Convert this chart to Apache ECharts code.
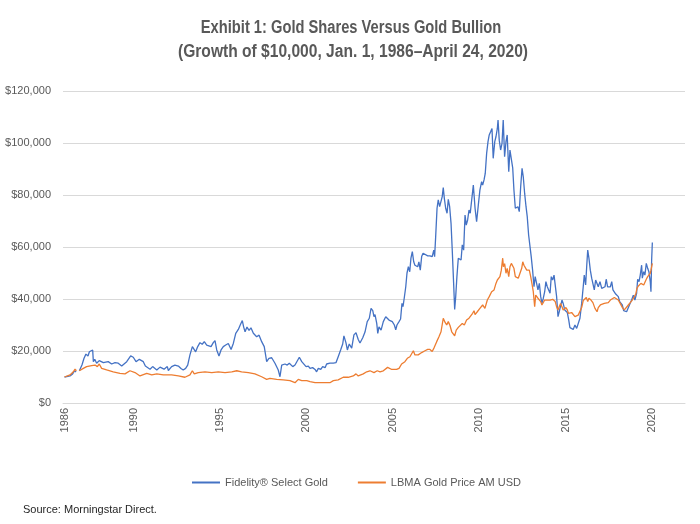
<!DOCTYPE html>
<html>
<head>
<meta charset="utf-8">
<script src="https://cdn.jsdelivr.net/npm/echarts@6/dist/echarts.min.js"></script>
<style>html,body{margin:0;padding:0;background:#fff}#c{width:700px;height:524px}</style>
</head>
<body>
<div id="c"></div>
<script>
// Growth of $10,000 (values in $ thousands), x = decimal year
const titleLines = ['Exhibit 1: Gold Shares Versus Gold Bullion', '(Growth of $10,000, Jan. 1, 1986\u2013April 24, 2020)'];
const sourceNote = 'Source: Morningstar Direct.';
const seriesNames = ['Fidelity\u00AE Select Gold', 'LBMA Gold Price AM USD'];
const yearTicks = [1986, 1990, 1995, 2000, 2005, 2010, 2015, 2020];
const yTickValues = [0, 20, 40, 60, 80, 100, 120];

const fidelitySelectGold = [[1986.00,10.0],[1986.32,10.4],[1986.47,11.2],[1986.59,12.4],[1986.67,11.9],[1986.75,null],[1986.86,12.4],[1987.01,14.6],[1987.13,17.2],[1987.24,18.8],[1987.36,18.1],[1987.44,19.7],[1987.55,20.4],[1987.63,20.4],[1987.67,15.9],[1987.75,16.8],[1987.86,15.3],[1988.01,16.3],[1988.25,15.5],[1988.53,15.9],[1988.73,15.0],[1988.92,15.5],[1989.11,15.3],[1989.31,14.2],[1989.60,15.9],[1989.83,18.1],[1989.98,17.6],[1990.14,15.9],[1990.33,16.8],[1990.56,15.9],[1990.68,14.2],[1990.79,14.0],[1990.95,13.0],[1991.10,14.0],[1991.34,12.7],[1991.53,13.8],[1991.76,13.0],[1991.95,14.0],[1992.01,12.5],[1992.20,14.0],[1992.39,14.6],[1992.59,14.2],[1992.74,13.3],[1992.87,12.7],[1993.01,13.3],[1993.13,14.6],[1993.26,18.5],[1993.40,21.7],[1993.51,22.3],[1993.59,19.7],[1993.71,21.7],[1993.84,23.2],[1993.97,22.6],[1994.09,23.6],[1994.23,22.3],[1994.32,21.7],[1994.48,21.7],[1994.61,23.2],[1994.71,24.0],[1994.81,20.4],[1994.94,18.1],[1995.06,20.4],[1995.19,21.7],[1995.33,22.3],[1995.48,22.9],[1995.64,20.6],[1995.77,22.9],[1995.91,26.8],[1996.06,28.3],[1996.17,30.0],[1996.29,31.7],[1996.37,29.2],[1996.45,27.4],[1996.56,29.2],[1996.68,27.9],[1996.79,28.9],[1996.93,26.8],[1997.02,27.4],[1997.12,25.5],[1997.26,26.1],[1997.41,23.6],[1997.56,21.7],[1997.70,15.9],[1997.83,17.2],[1997.99,17.4],[1998.08,18.1],[1998.18,15.3],[1998.28,14.6],[1998.37,12.7],[1998.47,10.1],[1998.57,14.6],[1998.66,14.0],[1998.76,15.0],[1998.89,14.6],[1999.01,15.3],[1999.09,15.9],[1999.21,14.0],[1999.34,14.6],[1999.44,14.0],[1999.59,17.6],[1999.73,15.9],[1999.82,15.9],[1999.98,14.0],[2000.11,14.2],[2000.21,13.3],[2000.36,13.6],[2000.50,12.9],[2000.59,12.0],[2000.69,13.3],[2000.83,12.9],[2000.94,14.0],[2001.08,13.6],[2001.17,15.0],[2001.36,15.3],[2001.56,15.3],[2001.71,15.5],[2001.84,17.8],[2001.98,20.4],[2002.10,22.7],[2002.17,25.8],[2002.29,23.1],[2002.37,20.4],[2002.48,22.7],[2002.62,21.1],[2002.75,26.2],[2002.87,27.0],[2003.00,24.4],[2003.10,23.1],[2003.26,25.1],[2003.39,27.3],[2003.52,31.3],[2003.64,32.6],[2003.74,36.4],[2003.84,35.5],[2003.91,33.2],[2003.97,34.0],[2004.07,30.6],[2004.13,26.8],[2004.20,29.3],[2004.32,28.0],[2004.45,31.3],[2004.59,33.2],[2004.70,33.8],[2004.78,31.9],[2004.89,32.6],[2004.97,31.3],[2005.09,30.0],[2005.17,28.1],[2005.24,30.0],[2005.36,31.3],[2005.45,32.3],[2005.53,38.3],[2005.59,37.1],[2005.66,40.3],[2005.75,44.7],[2005.82,49.9],[2005.90,52.4],[2005.98,50.5],[2006.05,55.7],[2006.13,58.2],[2006.21,54.3],[2006.28,53.0],[2006.36,53.6],[2006.44,52.4],[2006.51,54.3],[2006.59,51.1],[2006.67,56.3],[2006.75,57.6],[2006.86,57.0],[2007.02,56.6],[2007.15,56.6],[2007.28,56.3],[2007.37,58.8],[2007.42,56.3],[2007.48,63.9],[2007.56,74.9],[2007.63,78.1],[2007.71,75.5],[2007.79,74.9],[2007.86,79.4],[2007.92,82.9],[2007.98,78.8],[2008.06,74.9],[2008.14,73.0],[2008.21,78.3],[2008.29,75.5],[2008.37,69.1],[2008.44,58.8],[2008.52,46.0],[2008.58,36.0],[2008.64,40.9],[2008.71,48.6],[2008.79,55.7],[2008.87,56.3],[2008.95,55.0],[2009.02,60.8],[2009.10,58.8],[2009.18,72.3],[2009.25,68.4],[2009.33,70.4],[2009.41,74.2],[2009.48,73.0],[2009.56,73.0],[2009.66,83.8],[2009.76,74.9],[2009.85,69.7],[2009.95,76.2],[2010.04,81.9],[2010.14,85.1],[2010.20,83.8],[2010.28,85.8],[2010.35,88.3],[2010.43,96.0],[2010.51,100.5],[2010.58,103.1],[2010.66,104.3],[2010.74,105.6],[2010.81,94.1],[2010.90,100.5],[2010.97,102.4],[2011.05,105.6],[2011.09,108.8],[2011.16,101.1],[2011.24,97.3],[2011.32,99.9],[2011.39,108.8],[2011.47,94.7],[2011.55,100.5],[2011.62,103.1],[2011.71,89.0],[2011.78,97.3],[2011.86,96.7],[2011.94,90.3],[2012.01,81.9],[2012.09,74.9],[2012.17,74.2],[2012.24,75.5],[2012.32,73.6],[2012.40,83.2],[2012.48,90.3],[2012.55,87.0],[2012.63,80.6],[2012.71,75.5],[2012.78,71.7],[2012.86,64.6],[2012.94,64.0],[2013.01,56.3],[2013.09,51.1],[2013.17,44.7],[2013.24,48.6],[2013.33,49.2],[2013.40,43.5],[2013.48,46.0],[2013.56,40.9],[2013.63,38.3],[2013.71,40.3],[2013.79,42.8],[2013.86,46.7],[2013.94,44.7],[2014.02,43.5],[2014.10,42.2],[2014.17,48.6],[2014.25,47.3],[2014.33,49.2],[2014.40,48.6],[2014.48,40.9],[2014.56,33.2],[2014.63,35.1],[2014.71,35.8],[2014.79,39.6],[2014.86,38.3],[2014.95,35.8],[2015.02,35.4],[2015.10,34.8],[2015.18,32.0],[2015.25,29.0],[2015.35,29.4],[2015.44,28.3],[2015.54,30.0],[2015.64,28.7],[2015.73,29.4],[2015.83,32.6],[2015.93,38.3],[2016.02,44.7],[2016.08,49.2],[2016.16,45.4],[2016.22,52.4],[2016.28,58.8],[2016.35,55.7],[2016.43,51.1],[2016.51,48.0],[2016.58,48.0],[2016.66,43.5],[2016.74,47.3],[2016.82,46.7],[2016.89,44.7],[2016.99,46.7],[2017.09,44.1],[2017.18,44.1],[2017.28,44.7],[2017.35,47.6],[2017.43,44.7],[2017.51,44.1],[2017.59,44.7],[2017.67,46.7],[2017.74,43.5],[2017.82,42.8],[2017.90,41.9],[2017.97,41.9],[2018.05,40.9],[2018.13,39.0],[2018.20,39.6],[2018.28,37.7],[2018.36,35.5],[2018.44,35.1],[2018.53,35.1],[2018.63,35.8],[2018.73,38.3],[2018.82,39.6],[2018.92,41.5],[2019.01,39.6],[2019.11,42.2],[2019.17,47.6],[2019.25,46.7],[2019.32,49.2],[2019.40,53.0],[2019.44,48.0],[2019.52,50.5],[2019.59,49.2],[2019.67,53.7],[2019.75,51.8],[2019.82,50.5],[2019.90,46.7],[2019.94,42.8],[2019.98,55.0],[2020.02,61.7]];

const lbmaGoldAM = [[1986.00,10.0],[1986.32,10.8],[1986.51,12.0],[1986.61,13.0],[1986.69,12.4],[1986.75,null],[1986.86,12.4],[1987.09,13.3],[1987.28,14.0],[1987.57,14.4],[1987.77,14.6],[1987.90,14.0],[1988.01,15.0],[1988.15,13.3],[1988.44,12.7],[1988.82,12.0],[1989.21,11.4],[1989.50,11.2],[1989.79,12.4],[1990.08,11.7],[1990.37,10.4],[1990.76,11.4],[1991.05,10.8],[1991.34,11.2],[1991.72,10.8],[1991.82,10.4],[1992.20,10.8],[1992.59,10.4],[1992.97,9.9],[1993.26,10.8],[1993.40,12.4],[1993.51,11.2],[1993.74,11.7],[1994.13,12.0],[1994.52,11.7],[1994.90,12.0],[1995.29,11.7],[1995.68,12.0],[1995.97,12.4],[1996.25,12.0],[1996.64,11.7],[1997.02,11.2],[1997.41,10.1],[1997.70,9.1],[1997.89,9.5],[1998.28,9.1],[1998.66,8.9],[1999.05,8.6],[1999.34,7.8],[1999.44,7.8],[1999.53,9.1],[1999.73,8.6],[2000.02,8.6],[2000.21,8.2],[2000.50,7.8],[2000.79,7.8],[2001.17,7.8],[2001.36,7.8],[2001.56,8.6],[2001.84,8.9],[2002.13,9.9],[2002.42,9.9],[2002.71,10.4],[2002.87,11.2],[2003.00,10.4],[2003.29,11.2],[2003.49,12.0],[2003.68,12.4],[2003.91,11.7],[2004.10,12.4],[2004.26,12.0],[2004.45,12.4],[2004.70,13.7],[2004.94,12.9],[2005.22,12.9],[2005.36,13.3],[2005.51,15.0],[2005.70,15.9],[2005.84,17.2],[2005.99,17.8],[2006.19,20.1],[2006.28,18.5],[2006.47,18.5],[2006.67,19.4],[2006.86,20.1],[2007.02,20.6],[2007.15,20.6],[2007.28,19.8],[2007.40,21.4],[2007.54,23.6],[2007.67,25.5],[2007.79,27.4],[2007.92,32.6],[2008.02,31.1],[2008.12,30.0],[2008.21,31.3],[2008.31,29.8],[2008.41,27.4],[2008.50,28.0],[2008.58,25.8],[2008.67,28.0],[2008.79,29.1],[2008.90,28.4],[2009.02,30.6],[2009.14,30.0],[2009.27,31.9],[2009.41,32.6],[2009.52,32.0],[2009.62,34.5],[2009.70,35.5],[2009.76,34.0],[2009.89,35.1],[2010.04,36.4],[2010.20,37.7],[2010.33,36.4],[2010.47,39.6],[2010.58,40.9],[2010.72,42.8],[2010.86,43.5],[2010.97,46.0],[2011.05,47.3],[2011.13,46.7],[2011.20,48.6],[2011.28,51.1],[2011.36,55.7],[2011.40,52.4],[2011.47,53.6],[2011.55,49.9],[2011.62,51.8],[2011.71,48.6],[2011.78,52.4],[2011.86,53.7],[2011.94,54.3],[2012.01,51.8],[2012.09,48.6],[2012.17,48.0],[2012.26,48.0],[2012.36,48.6],[2012.46,51.8],[2012.52,54.3],[2012.59,53.0],[2012.67,52.4],[2012.75,51.1],[2012.82,50.5],[2012.90,51.1],[2012.98,48.6],[2013.05,46.0],[2013.13,42.8],[2013.21,37.0],[2013.27,41.5],[2013.33,40.9],[2013.40,40.3],[2013.48,39.6],[2013.56,39.0],[2013.63,37.7],[2013.71,37.0],[2013.79,39.6],[2013.86,40.3],[2013.94,39.6],[2014.02,40.3],[2014.10,39.6],[2014.17,39.0],[2014.25,39.9],[2014.33,39.6],[2014.40,39.0],[2014.48,37.0],[2014.56,35.8],[2014.63,37.0],[2014.71,38.3],[2014.79,37.0],[2014.86,35.8],[2014.95,36.4],[2015.02,36.7],[2015.10,35.8],[2015.16,34.5],[2015.25,35.1],[2015.35,34.8],[2015.44,35.5],[2015.54,33.2],[2015.64,32.6],[2015.73,33.8],[2015.83,34.2],[2015.93,36.7],[2016.02,39.4],[2016.12,39.6],[2016.20,40.6],[2016.28,39.0],[2016.35,40.3],[2016.47,39.6],[2016.58,38.6],[2016.70,36.4],[2016.82,35.1],[2016.89,36.7],[2017.01,37.7],[2017.12,37.3],[2017.24,38.3],[2017.35,39.0],[2017.47,38.6],[2017.59,39.6],[2017.70,40.3],[2017.82,40.6],[2017.93,40.3],[2018.05,39.6],[2018.16,38.3],[2018.28,36.8],[2018.40,35.8],[2018.51,36.4],[2018.63,37.7],[2018.74,38.6],[2018.86,39.6],[2018.97,39.0],[2019.06,41.9],[2019.13,44.1],[2019.21,45.0],[2019.29,44.7],[2019.36,46.0],[2019.44,46.3],[2019.52,45.4],[2019.59,45.4],[2019.67,47.6],[2019.75,48.6],[2019.82,49.2],[2019.90,49.9],[2019.94,51.1],[2020.02,53.7]];

const toData = arr => arr.map(p => [p[0], p[1] === null ? '-' : p[1]]);
const FONT = '"Liberation Sans", Arial, sans-serif';

const chart = echarts.init(document.getElementById('c'), null, { renderer: 'canvas' });
chart.setOption({
  animation: false,
  backgroundColor: '#ffffff',
  legend: {
    data: seriesNames.map(n => ({ name: n, icon: 'rect' })),
    left: 187,
    top: 472,
    itemWidth: 28,
    itemHeight: 2,
    itemGap: 30,
    textStyle: { fontFamily: FONT, fontSize: 11, color: '#595959' }
  },
  grid: { left: 63, right: 15, top: 91, bottom: 121, containLabel: false },
  xAxis: {
    type: 'value',
    min: 1985.913,
    max: 2021.91,
    axisLine: { show: true, lineStyle: { color: '#D9D9D9', width: 1 } },
    axisTick: { show: false },
    splitLine: { show: false },
    axisLabel: {
      customValues: yearTicks,
      rotate: 90,
      margin: 5,
      fontFamily: FONT,
      fontSize: 11,
      color: '#595959',
      formatter: v => String(Math.round(v))
    }
  },
  yAxis: {
    type: 'value',
    min: yTickValues[0],
    max: yTickValues[yTickValues.length - 1],
    interval: 20,
    axisLine: { show: false },
    axisTick: { show: false },
    splitLine: { lineStyle: { color: '#D9D9D9', width: 1 } },
    axisLabel: {
      margin: 12,
      fontFamily: FONT,
      fontSize: 11,
      color: '#595959',
      formatter: v => '$' + (v * 1000).toLocaleString('en-US')
    }
  },
  series: [
    {
      name: seriesNames[0], type: 'line', data: toData(fidelitySelectGold),
      symbol: 'none', connectNulls: false,
      lineStyle: { color: '#4472C4', width: 1.3 }, itemStyle: { color: '#4472C4' }
    },
    {
      name: seriesNames[1], type: 'line', data: toData(lbmaGoldAM),
      symbol: 'none', connectNulls: false,
      lineStyle: { color: '#ED7D31', width: 1.3 }, itemStyle: { color: '#ED7D31' }
    }
  ],
  graphic: [
    {
      type: 'text', x: 351, y: 28, scaleX: 0.816,
      style: { text: titleLines[0], align: 'center', verticalAlign: 'middle', fontFamily: FONT, fontWeight: 'bold', fontSize: 18, fill: '#595959' }
    },
    {
      type: 'text', x: 353, y: 52, scaleX: 0.866,
      style: { text: titleLines[1], align: 'center', verticalAlign: 'middle', fontFamily: FONT, fontWeight: 'bold', fontSize: 18, fill: '#595959' }
    },
    {
      type: 'text', left: 23, top: 504,
      style: { text: sourceNote, fontFamily: FONT, fontSize: 11, fill: '#262626' }
    }
  ]
});
</script>
</body>
</html>
